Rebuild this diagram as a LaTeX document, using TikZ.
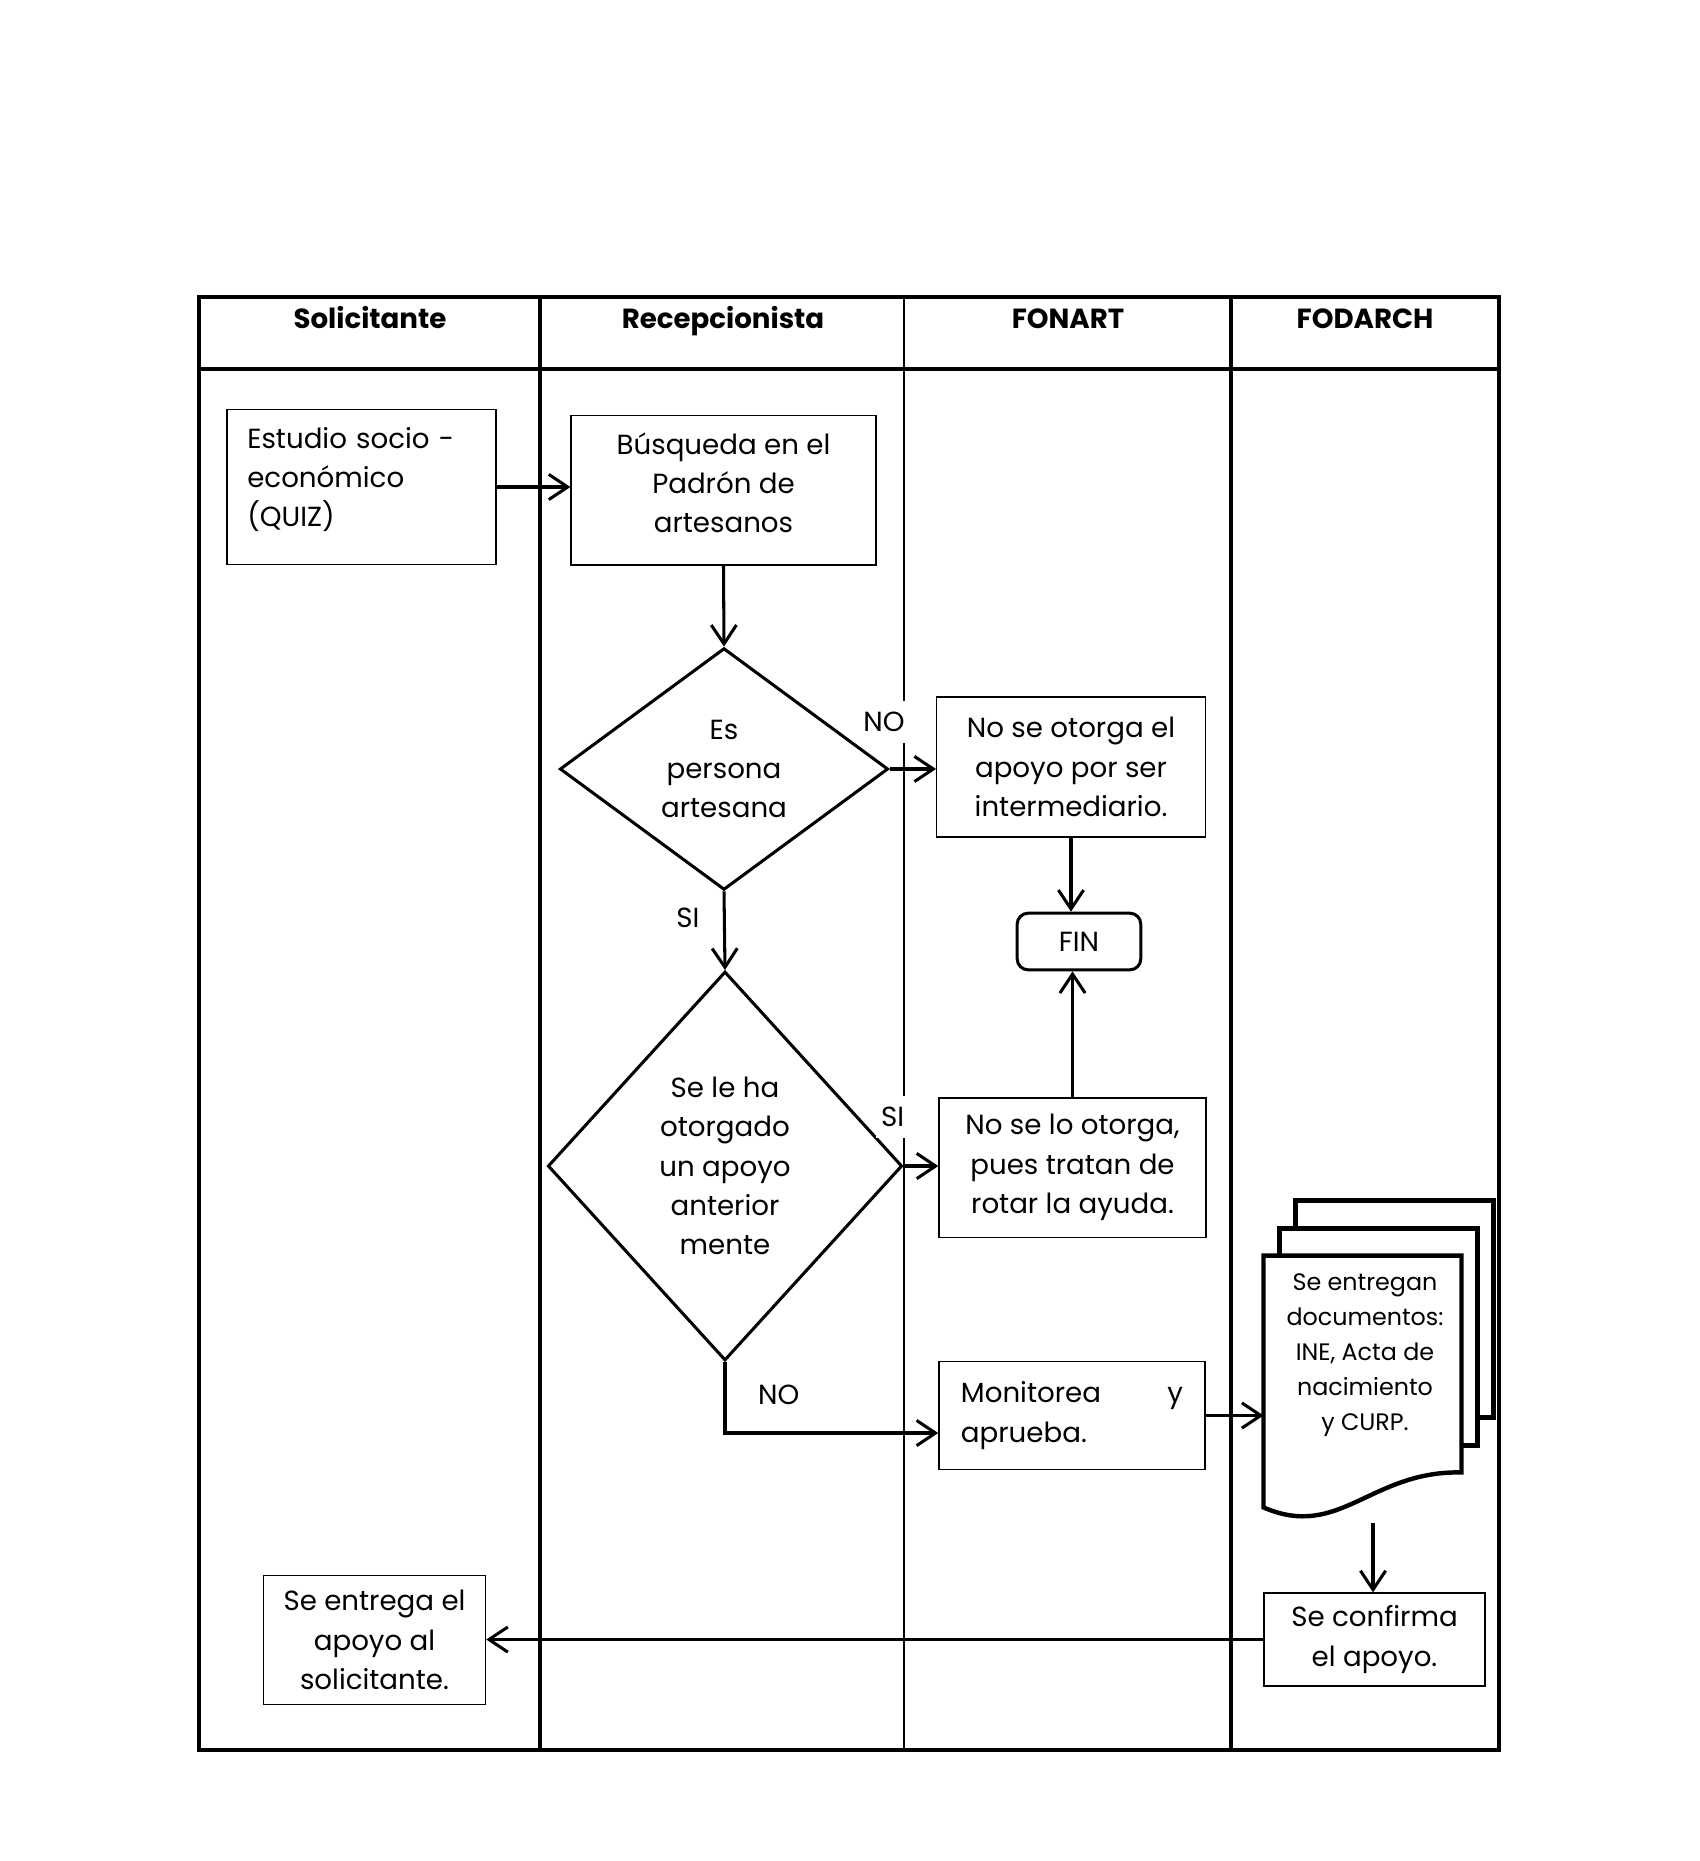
\documentclass[tikz,border=0pt]{standalone}
\usepackage{fontspec}
\setmainfont{Poppins}
\usetikzlibrary{shapes.geometric,arrows.meta}

\begin{document}
\begin{tikzpicture}[x=0.127mm,y=-0.127mm,
  font=\fontsize{10}{14.2}\selectfont,
  caja/.style={draw,line width=0.5pt,inner sep=0pt,align=center},
  rombo/.style={draw,diamond,line width=1.1pt,inner sep=0pt,align=center},
  flecha/.style={draw,line width=1.1pt,-{Straight Barb[length=2.4mm,width=3.2mm,line width=1.1pt]}},
  etiqueta/.style={fill=white,inner xsep=2pt,inner ysep=4pt},
  carril/.style={draw,line width=1.3pt},
  titulo/.style={anchor=base,font=\bfseries\fontsize{10}{12}\selectfont}]
\useasboundingbox (0,0) rectangle (1700,1861);

% carriles
\path[carril] (199,297) rectangle (1499,1750);
\path[carril] (199,369) -- (1499,369);
\foreach \x/\w in {540/1.3,904/0.8,1231/1.3}
  \path[draw,line width=\w pt] (\x,297) -- (\x,1750);
\node[titulo] (sol) at (370,328) {Solicitante};
\node[titulo] (rec) at (723,328) {Recepcionista};
\node[titulo] (fon) at (1068,328) {FONART};
\node[titulo] (fod) at (1365,328) {FODARCH};

% pasos
\node[caja,align=left,text width=29mm,inner xsep=2.6mm,minimum height=19.7mm] (1) at (361.5,487) {Estudio socio -\\económico\\(QUIZ)\\[-7pt]\mbox{}};
\node[caja,minimum width=38.7mm,minimum height=19mm] (2) at (723.5,490) {Búsqueda en el\\Padrón de\\artesanos\\[-9pt]\mbox{}};
\node[rombo,minimum width=41.7mm,minimum height=30.7mm] (3) at (724,769) {Es\\persona\\artesana};
\node[caja,minimum width=34.1mm,minimum height=17.8mm] (4) at (1071,767) {No se otorga el\\apoyo por ser\\intermediario.};
\node[draw,rounded corners=1.4mm,line width=1.1pt,minimum width=15.7mm,minimum height=7.2mm] (5) at (1079,941.5) {FIN};
\node[rombo,minimum width=45mm,minimum height=49.4mm] (6) at (725,1166) {Se le ha\\otorgado\\un apoyo\\anterior\\mente};
\node[caja,minimum width=33.9mm,minimum height=17.7mm] (7) at (1072.5,1167.5) {No se lo otorga,\\pues tratan de\\rotar la ayuda.};
\node[caja,align=left,minimum width=33.8mm,minimum height=13.7mm] (8) at (1072,1415.5) {\makebox[28.2mm]{Monitorea\hfill y}\\aprueba.};
\node[inner sep=0pt,minimum width=25mm,minimum height=27.4mm] (9) at (1362.5,1364) {};
\foreach \dx/\dy in {32/-55,16/-27}
  \path[draw,line width=1.6pt,fill=white] ([shift={(\dx,\dy)}]9.north west) rectangle ([shift={(\dx,\dy)}]9.south east);
\path[draw,line width=1.6pt,fill=white] (9.north west) -- (9.north east) -- (9.south east)
  .. controls +(-91,-2) and +(76,33) .. ([shift={(0,35)}]9.south west) -- cycle;
\node[align=center,font=\fontsize{8.6}{12.6}\selectfont] (9t) at (1365,1355) {Se entregan\\documentos:\\INE, Acta de\\nacimiento\\y CURP.};
\coordinate (9s) at (1373,1523);
\node[caja,minimum width=28.1mm,minimum height=11.8mm] (10) at (1374.5,1639.5) {Se confirma\\el apoyo.};
\node[caja,minimum width=28.2mm,minimum height=16.4mm] (11) at (374.5,1640) {Se entrega el\\apoyo al\\solicitante.};

% flechas
\path[flecha] (1.east) -- (1.east -| 2.west);
\path[flecha] (2.south) -- (3.north);
\path[flecha] (3.east) -- (3.east -| 4.west);
\path[flecha] (4.south) -- (4.south |- 5.north);
\path[flecha] (3.south) -- (6.north);
\path[flecha] (6.east) -- (6.east -| 7.west);
\path[flecha] (7.north) -- (7.north |- 5.south);
\path[flecha] (6.south) |- (8.west |- 0,1433);
\path[flecha] (8.east) -- (8.east -| 9.west);
\path[flecha] (9s) -- (9s |- 10.north);
\path[flecha] (10.west) -- (10.west -| 11.east);

\node[etiqueta] (no1) at (884,722) {NO};
\node[etiqueta] (si1) at (688,917.5) {SI};
\node[etiqueta] (si2) at (892.6,1117) {SI};
\node[etiqueta] (no2) at (778.7,1394.7) {NO};
\end{tikzpicture}
\end{document}
